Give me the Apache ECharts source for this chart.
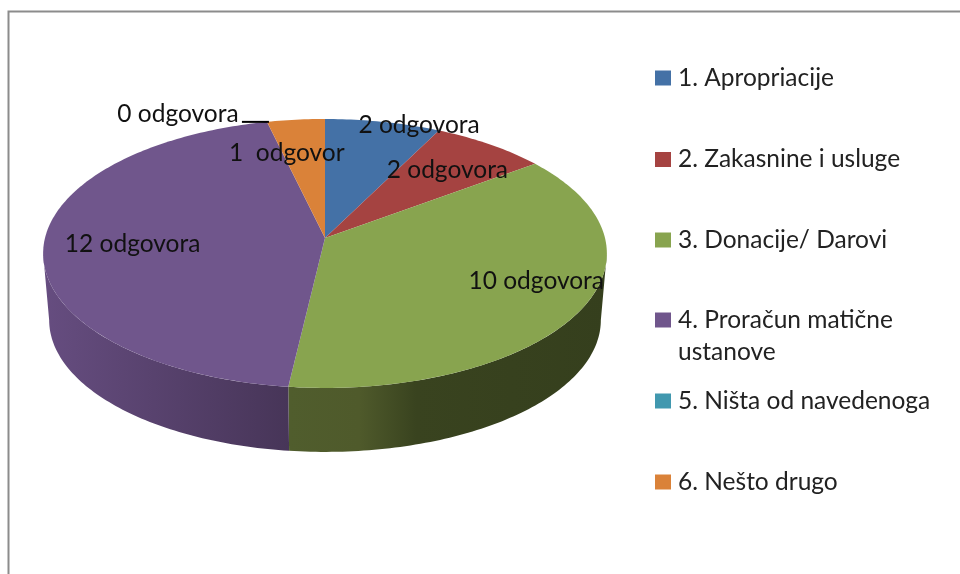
<!DOCTYPE html>
<html>
<head>
<meta charset="utf-8">
<style>
html,body{margin:0;padding:0;background:#fff;}
#chart{width:960px;height:574px;}
</style>
<script src="https://cdn.jsdelivr.net/npm/echarts@6/dist/echarts.min.js"></script>
</head>
<body>
<div id="chart"></div>
<script>
const categories = ['1. Apropriacije', '2. Zakasnine i usluge', '3. Donacije/ Darovi', '4. Proračun matične\nustanove', '5. Ništa od navedenoga', '6. Nešto drugo']
const values = [2, 2, 10, 12, 0, 1]
const labels = ['2 odgovora', '2 odgovora', '10 odgovora', '12 odgovora', '0 odgovora', '1  odgovor']
const colors = ['#4471a6', '#a54341', '#88a44f', '#70568c', '#4198af', '#da8239']

// label shift from the rim point at the middle of each slice
const labelShift = [[36, 3], [-43, 26], [-46, -27], [89, -2], [-89, -8], [-9, 33]]
const legendCenters = [78, 159.5, 240, 320, 401, 482]

const FONT = 'Lato'
const FONT_SIZE = 24.5
const LINE = 32

// pie geometry, the perspective moves the apex above the middle of the ellipse
const topFace = { cx: 325, cy: 238, a: 280, b: 132.7 }
const bottomFace = { cx: 325, cy: 305, a: 274, b: 130 }
const k = 0.115
const visStart = 96.6
const visEnd = 263.4

const total = values.reduce((a, b) => a + b, 0)
const starts = []
let sum = 0
for (let i = 0; i < values.length; i++) {
  starts.push(sum / total * 360)
  sum += values[i]
}

const project = (g, deg) => {
  const t = deg * Math.PI / 180
  const u = Math.sin(t)
  const v = -Math.cos(t)
  const w = 1 - k * v
  return [g.cx + g.a * u / w, g.cy + g.b * v / w]
}

const arc = (g, from, to) => {
  const pts = []
  const n = Math.max(1, Math.ceil(Math.abs(to - from)))
  for (let j = 0; j <= n; j++) {
    pts.push(project(g, from + (to - from) * j / n))
  }
  return pts
}

const wallFill = (i) => {
  if (i === 2) {
    return new echarts.graphic.LinearGradient(289, 0, 607, 0, [
      { offset: 0, color: '#505d2d' },
      { offset: 0.22, color: '#4f5a2b' },
      { offset: 0.4, color: '#39431f' },
      { offset: 1, color: '#353f1d' }
    ], true)
  }
  return new echarts.graphic.LinearGradient(43, 0, 289, 0, [
    { offset: 0, color: '#664d80' },
    { offset: 1, color: '#473558' }
  ], true)
}

const renderSlice = (i) => (params, api) => {
  const from = starts[i]
  const to = from + api.value(0) / total * 360
  const children = []

  if (to > from) {
    children.push({
      type: 'polygon',
      z2: 10,
      shape: { points: [[topFace.cx, topFace.cy]].concat(arc(topFace, from, to)) },
      style: { fill: colors[i] }
    })
    const wallFrom = Math.max(from, visStart)
    const wallTo = Math.min(to, visEnd)
    if (wallTo > wallFrom) {
      children.push({
        type: 'polygon',
        z2: 5,
        shape: { points: arc(topFace, wallFrom, wallTo).concat(arc(bottomFace, wallFrom, wallTo).reverse()) },
        style: { fill: wallFill(i) }
      })
    }
  }

  const rim = project(topFace, (from + to) / 2)
  if (to === from) {
    children.push({
      type: 'line',
      z2: 15,
      shape: { x1: rim[0] - 25, y1: rim[1], x2: rim[0] + 2, y2: rim[1] },
      style: { stroke: '#000', lineWidth: 2 }
    })
  }
  children.push({
    type: 'text',
    z2: 20,
    style: {
      text: labels[i],
      x: rim[0] + labelShift[i][0],
      y: rim[1] + labelShift[i][1],
      align: 'center',
      verticalAlign: 'middle',
      fontFamily: FONT,
      fontSize: FONT_SIZE,
      fill: '#111'
    }
  })
  return { type: 'group', children: children }
}

const chart = echarts.init(document.getElementById('chart'), null, { renderer: 'canvas' })

chart.setOption({
  animation: false,
  backgroundColor: '#fff',
  tooltip: { show: false },
  graphic: [{
    type: 'polyline',
    silent: true,
    shape: { points: [[8.5, 574], [8.5, 11.5], [960, 11.5]] },
    style: { stroke: '#8c8c8c', lineWidth: 2, fill: 'none' }
  }],
  // one legend per entry: the rows keep an even pitch, whatever their line count
  legend: categories.map((name, i) => {
    const twoLines = name.indexOf('\n') >= 0
    return {
      left: 655,
      top: legendCenters[i] - (twoLines ? LINE * 1.5 : LINE / 2),
      padding: 0,
      data: [name],
      icon: 'rect',
      itemWidth: 16,
      itemHeight: 15,
      selectedMode: false,
      // a blank first line centres the marker on the first visible line
      formatter: (n) => (twoLines ? '\n' + n : n),
      textStyle: {
        fontFamily: FONT,
        fontSize: FONT_SIZE,
        color: '#222',
        lineHeight: LINE,
        padding: [0, 0, 0, 2]
      }
    }
  }),
  series: categories.map((name, i) => ({
    type: 'custom',
    name: name,
    coordinateSystem: 'none',
    silent: true,
    itemStyle: { color: colors[i] },
    data: [[values[i]]],
    renderItem: renderSlice(i)
  }))
})
</script>
</body>
</html>
